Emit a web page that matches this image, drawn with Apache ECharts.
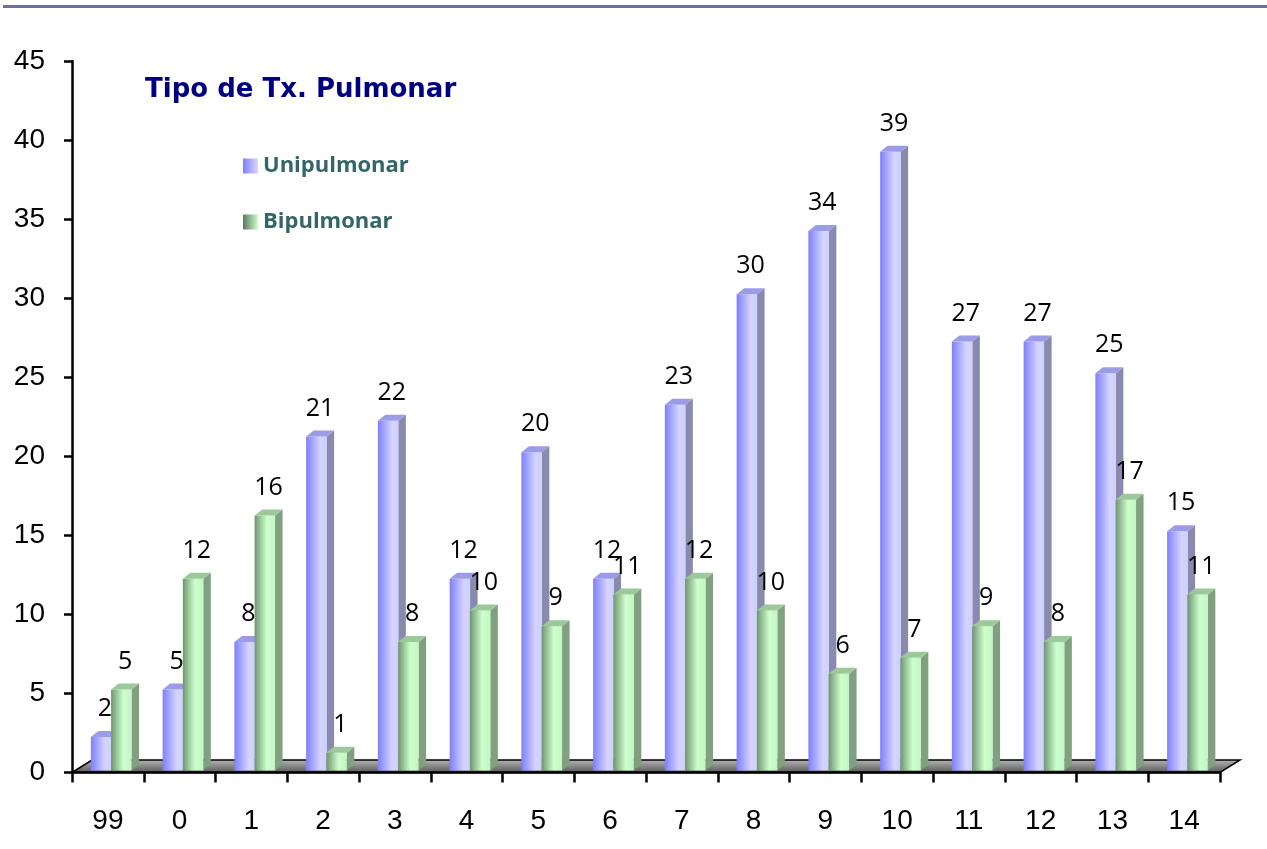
<!DOCTYPE html>
<html>
<head>
<meta charset="utf-8">
<script src="https://cdn.jsdelivr.net/npm/echarts@6/dist/echarts.min.js"></script>
<style>
  html, body { margin: 0; padding: 0; background: #fff; }
  #chart { width: 1267px; height: 849px; }
</style>
</head>
<body>
<div id="chart"></div>
<script>
var categories = ['99', '0', '1', '2', '3', '4', '5', '6', '7', '8', '9', '10', '11', '12', '13', '14'];
var uniValues = [2, 5, 8, 21, 22, 12, 20, 12, 23, 30, 34, 39, 27, 27, 25, 15];
var biValues = [5, 12, 16, 1, 8, 10, 9, 11, 12, 10, 6, 7, 9, 8, 17, 11];
var yTicks = [0, 5, 10, 15, 20, 25, 30, 35, 40, 45];

var LG = echarts.graphic.LinearGradient;
var blueFront = new LG(0, 0, 1, 0, [
  {offset: 0, color: '#7f7fff'}, {offset: 0.7, color: '#d4d4ff'}, {offset: 1, color: '#cfcffc'}
]);
var greenFront = new LG(0, 0, 1, 0, [
  {offset: 0, color: '#6f956f'}, {offset: 0.6, color: '#ccffcc'}, {offset: 1, color: '#c4f4c4'}
]);

// 3d looking bar: front face, side face, top face and value label
function makeBar(off, front, side, top) {
  return function(params, api) {
    var i = api.value(0), v = api.value(1);
    var p = api.coord([i, v]);
    var p0 = api.coord([i, 0]);
    var cw = api.size([1, 0])[0];
    var w = cw * 0.285;
    var dx = cw * 0.105, dy = 6;
    var x = p[0] + off * cw;
    var yt = p[1] - 4, yb = p0[1] - 2;
    return {
      type: 'group',
      children: [
        {type: 'polygon', shape: {points: [[x + w, yt], [x + w + dx, yt - dy], [x + w + dx, yb - dy], [x + w, yb]]},
          style: {fill: side}},
        {type: 'rect', shape: {x: x, y: yt, width: w, height: yb - yt}, style: {fill: front}},
        {type: 'polygon', shape: {points: [[x, yt], [x + dx, yt - dy], [x + w + dx, yt - dy], [x + w, yt]]},
          style: {fill: top}},
        {type: 'text', style: {text: String(v), x: x + (w + dx) / 2, y: yt - 28, fill: '#000',
          fontSize: 25, fontFamily: '"Open Sans", sans-serif', align: 'center', verticalAlign: 'middle'}}
      ]
    };
  };
}

var myChart = echarts.init(document.getElementById('chart'));

var option = {
  animation: false,
  graphic: [
    {type: 'rect', shape: {x: 3, y: 5, width: 1264, height: 3}, style: {fill: '#6d6da8'}}
  ],
  title: {
    text: 'Tipo de Tx. Pulmonar',
    left: 145,
    top: 77,
    padding: 0,
    textStyle: {color: '#000080', fontSize: 26, fontWeight: 'bold', fontFamily: '"Comic Sans MS", "DejaVu Sans", sans-serif'}
  },
  legend: {
    orient: 'vertical',
    left: 243,
    top: 155,
    padding: 0,
    icon: 'rect',
    itemWidth: 15,
    itemHeight: 15,
    itemGap: 34,
    textStyle: {color: '#336666', fontSize: 22, lineHeight: 21, fontWeight: 'bold', fontFamily: '"Open Sans", sans-serif'},
    data: [
      {name: 'Unipulmonar', itemStyle: {color: new LG(0, 0, 1, 0, [{offset: 0, color: '#8080ff'}, {offset: 1, color: '#d8d8ff'}])}},
      {name: 'Bipulmonar', itemStyle: {color: new LG(0, 0, 1, 0, [{offset: 0, color: '#5f785f'}, {offset: 1, color: '#ccffcc'}])}}
    ]
  },
  grid: {left: 72, right: 47, top: 61, bottom: 76.5},
  xAxis: {
    type: 'category',
    data: categories,
    z: 3,
    axisLine: {lineStyle: {color: '#000', width: 2.5}},
    axisTick: {show: true, length: 10, lineStyle: {color: '#000', width: 2.5}},
    axisLabel: {color: '#000', fontSize: 28, margin: 35, fontFamily: '"Liberation Sans", Arial, sans-serif'}
  },
  yAxis: {
    type: 'value',
    min: 0,
    max: 45,
    interval: 5,
    z: 3,
    splitLine: {show: false},
    axisLine: {show: true, lineStyle: {color: '#000', width: 2.5}},
    axisTick: {show: true, length: 8, lineStyle: {color: '#000', width: 2.5}},
    axisLabel: {color: '#000', fontSize: 28, margin: 27, fontFamily: '"Liberation Sans", Arial, sans-serif',
      formatter: function(v) { return yTicks.indexOf(v) >= 0 ? String(v) : ''; }}
  },
  series: [
    {
      type: 'custom',
      z: 1,
      silent: true,
      encode: {x: 0, y: 1},
      data: [[0, 0]],
      renderItem: function(params, api) {
        var cw = api.size([1, 0])[0];
        var pl = api.coord([0, 0]);
        var pr = api.coord([categories.length - 1, 0]);
        var xl = pl[0] - cw / 2, xr = pr[0] + cw / 2, y = pl[1];
        return {
          type: 'polygon',
          shape: {points: [[xl, y], [xl + 20, y - 12.5], [xr + 20, y - 12.5], [xr, y]]},
          style: {fill: new LG(0, 0, 0, 1, [{offset: 0, color: '#b8b8b8'}, {offset: 1, color: '#555'}]),
            stroke: '#000', lineWidth: 1.5}
        };
      }
    },
    {
      name: 'Unipulmonar',
      type: 'custom',
      z: 2,
      encode: {x: 0, y: 1},
      itemStyle: {color: '#9a9aff'},
      data: uniValues.map(function(v, i) { return [i, v]; }),
      renderItem: makeBar(-0.237, blueFront, '#8a8aae', '#9c9ce6')
    },
    {
      name: 'Bipulmonar',
      type: 'custom',
      z: 3,
      encode: {x: 0, y: 1},
      itemStyle: {color: '#a0d0a0'},
      data: biValues.map(function(v, i) { return [i, v]; }),
      renderItem: makeBar(0.045, greenFront, '#80a080', '#9cc89c')
    }
  ]
};

myChart.setOption(option);
</script>
</body>
</html>
